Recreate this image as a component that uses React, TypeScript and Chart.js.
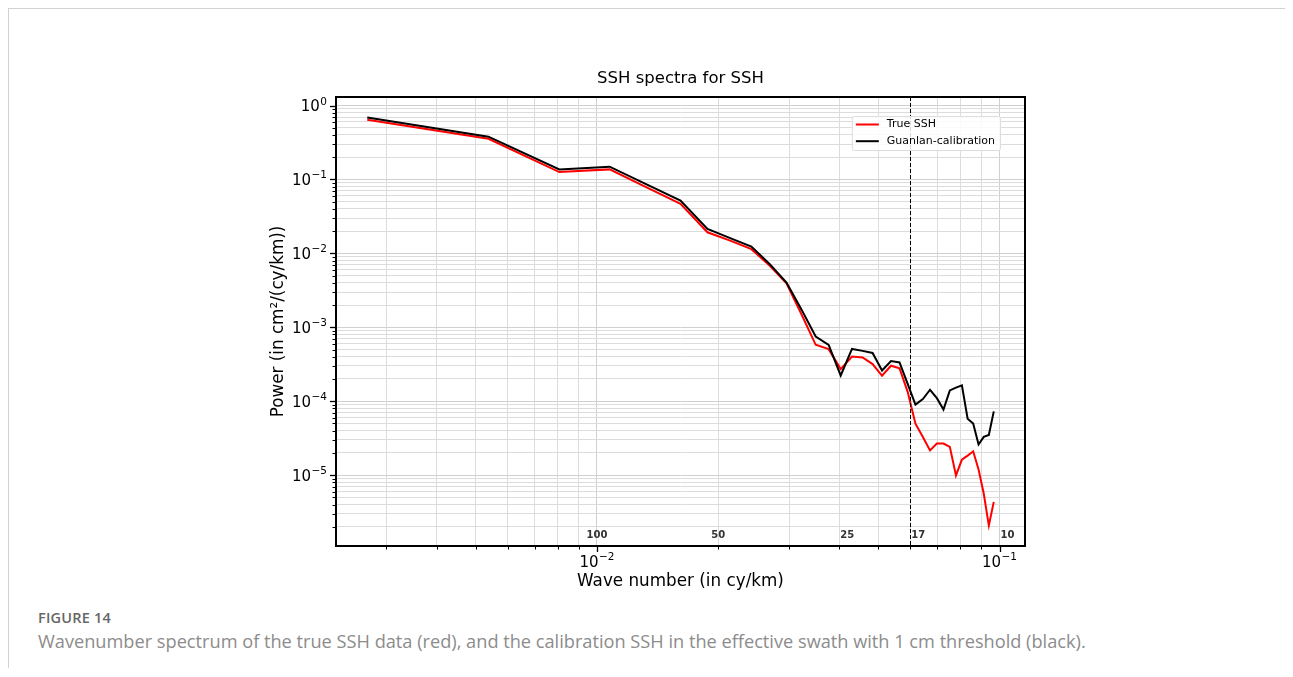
import { useEffect, useRef } from "react";
import { Chart, registerables } from "chart.js";

Chart.register(...registerables);

// Wavenumbers of the spectral estimates (cy/km)
const waveNumbers = [
  0.002688, 0.005376, 0.008065, 0.010753, 0.013441, 0.016129, 0.018817, 0.021505, 0.024194,
  0.026882, 0.02957, 0.032258, 0.034946, 0.037634, 0.040323, 0.043011, 0.045699, 0.048387,
  0.051075, 0.053763, 0.056452, 0.05914, 0.061828, 0.064516, 0.067204, 0.069892, 0.072581,
  0.075269, 0.077957, 0.080645, 0.083333, 0.086022, 0.08871, 0.091398, 0.094086, 0.096774,
];

// Power spectral density, cm²/(cy/km)
const trueSsh = [
  0.643, 0.356, 0.126, 0.137, 0.0758, 0.0467, 0.0193, 0.0148, 0.0114,
  0.00678, 0.00393, 0.00148, 5.8e-4, 5.07e-4, 2.72e-4, 4.03e-4, 3.91e-4, 3.18e-4,
  2.21e-4, 3.02e-4, 2.78e-4, 1.34e-4, 4.97e-5, 3.28e-5, 2.16e-5, 2.67e-5, 2.67e-5,
  2.41e-5, 9.9e-6, 1.62e-5, 1.84e-5, 2.1e-5, 1.19e-5, 5.6e-6, 2.08e-6, 4.35e-6,
];

const calibratedSsh = [
  0.69, 0.379, 0.137, 0.149, 0.083, 0.0517, 0.0214, 0.016, 0.0124,
  0.00715, 0.00403, 0.00172, 7.5e-4, 5.8e-4, 2.23e-4, 5.1e-4, 4.8e-4, 4.5e-4,
  2.6e-4, 3.5e-4, 3.35e-4, 1.72e-4, 9.0e-5, 1.07e-4, 1.43e-4, 1.1e-4, 7.7e-5,
  1.4e-4, 1.53e-4, 1.64e-4, 5.8e-5, 5.0e-5, 2.6e-5, 3.3e-5, 3.5e-5, 7.3e-5,
];

const seriesNames = ["True SSH", "Guanlan-calibration"];
const seriesColors = ["#ff0000", "#000000"];

// Wavelength markers (km) written along the bottom of the plot
const wavelengthText = ["100", "50", "25", "17", "10"];
const wavelengthAt = [0.01, 0.02, 0.04, 0.06, 0.1];
const cutoffWaveNumber = 0.06;

const xLimits = [0.002248, 0.1157];
const yLimits = [1.1e-6, 1.306];

const FONT = "'DejaVu Sans', sans-serif";

function decadeExponent(v: number): number | null {
  const l = Math.log10(v);
  const e = Math.round(l);
  return Math.abs(l - e) > 1e-6 ? null : e;
}

function logTicks(min: number, max: number) {
  const out: { value: number; major: boolean }[] = [];
  for (let e = Math.floor(Math.log10(min)); e <= Math.ceil(Math.log10(max)); e++) {
    for (let m = 1; m <= 9; m++) {
      const v = m * Math.pow(10, e);
      if (v >= min * 0.99999 && v <= max * 1.00001) out.push({ value: v, major: m === 1 });
    }
  }
  return out;
}

// "10" with a raised exponent, anchored at (x, baseline)
function drawPower(ctx: CanvasRenderingContext2D, e: number, x: number, baseline: number, align: "right" | "center") {
  const base = "10";
  const exp = String(e).replace("-", "\u2212");
  ctx.font = `15px ${FONT}`;
  const wb = ctx.measureText(base).width;
  ctx.font = `10.5px ${FONT}`;
  const we = ctx.measureText(exp).width;
  const total = wb + 0.5 + we;
  const start = align === "right" ? x - total : x - total / 2;
  ctx.textAlign = "left";
  ctx.textBaseline = "alphabetic";
  ctx.font = `15px ${FONT}`;
  ctx.fillText(base, start, baseline);
  ctx.font = `10.5px ${FONT}`;
  ctx.fillText(exp, start + wb + 0.5, baseline - 6.5);
}

const frameAndMarks = {
  id: "frameAndMarks",
  afterDatasetsDraw(chart: any) {
    const { ctx, chartArea: a, scales } = chart;
    const xs = scales.x;
    const ys = scales.y;
    ctx.save();

    // cutoff line
    const cx = Math.round(xs.getPixelForValue(cutoffWaveNumber)) + 0.5;
    ctx.strokeStyle = "#000";
    ctx.lineWidth = 1;
    ctx.setLineDash([4, 2]);
    ctx.beginPath();
    ctx.moveTo(cx, a.top);
    ctx.lineTo(cx, a.bottom);
    ctx.stroke();
    ctx.setLineDash([]);

    // wavelength labels
    ctx.fillStyle = "#333";
    ctx.font = `bold 10px ${FONT}`;
    ctx.textBaseline = "alphabetic";
    wavelengthText.forEach((t, i) => {
      const px = xs.getPixelForValue(wavelengthAt[i]);
      ctx.textAlign = i < 2 ? "center" : "left";
      ctx.fillText(t, i < 2 ? px : px + 1, a.bottom - 8);
    });

    // tick marks and decade labels
    ctx.strokeStyle = "#000";
    ctx.fillStyle = "#000";
    xs.ticks.forEach((t: any) => {
      const px = Math.round(xs.getPixelForValue(t.value)) + 0.5;
      ctx.lineWidth = t.major ? 1.3 : 1;
      ctx.beginPath();
      ctx.moveTo(px, a.bottom);
      ctx.lineTo(px, a.bottom + (t.major ? 6 : 3.5));
      ctx.stroke();
      const e = decadeExponent(t.value);
      if (e !== null) drawPower(ctx, e, xs.getPixelForValue(t.value), a.bottom + 20.5, "center");
    });
    ys.ticks.forEach((t: any) => {
      const py = Math.round(ys.getPixelForValue(t.value)) + 0.5;
      ctx.lineWidth = t.major ? 1.3 : 1;
      ctx.beginPath();
      ctx.moveTo(a.left, py);
      ctx.lineTo(a.left - (t.major ? 6 : 3.5), py);
      ctx.stroke();
      const e = decadeExponent(t.value);
      if (e !== null) drawPower(ctx, e, a.left - 9, ys.getPixelForValue(t.value) + 5.5, "right");
    });

    // axes frame
    ctx.lineWidth = 2;
    ctx.strokeRect(a.left, a.top, a.right - a.left, a.bottom - a.top);
    ctx.restore();
  },
  afterDraw(chart: any) {
    const { ctx, chartArea: a } = chart;
    ctx.save();
    ctx.font = `11px ${FONT}`;
    const textW = Math.max(...seriesNames.map((s) => ctx.measureText(s).width));
    const w = 35 + textW + 5;
    const h = 34;
    const right = a.right - 25;
    const left = right - w;
    const top = a.top + 19;
    ctx.fillStyle = "rgba(255,255,255,0.85)";
    ctx.strokeStyle = "#dddddd";
    ctx.lineWidth = 1;
    ctx.beginPath();
    ctx.roundRect(left + 0.5, top + 0.5, w, h, 2);
    ctx.fill();
    ctx.stroke();
    ctx.textBaseline = "middle";
    ctx.textAlign = "left";
    seriesNames.forEach((s, i) => {
      const y = top + 8.5 + i * 16.7;
      ctx.strokeStyle = seriesColors[i];
      ctx.lineWidth = 2;
      ctx.beginPath();
      ctx.moveTo(left + 4, y);
      ctx.lineTo(left + 27, y);
      ctx.stroke();
      ctx.fillStyle = "#000";
      ctx.fillText(s, left + 35, y);
    });
    ctx.restore();
  },
};

export default function App() {
  const ref = useRef<HTMLCanvasElement | null>(null);

  useEffect(() => {
    if (!ref.current) return;
    const gridColor = (c: any) => (c.tick && c.tick.major ? "#d0d0d0" : "#dcdcdc");
    const chart = new Chart(ref.current, {
      type: "line",
      data: {
        datasets: [
          {
            label: seriesNames[0],
            data: waveNumbers.map((k, i) => ({ x: k, y: trueSsh[i] })),
            borderColor: seriesColors[0],
            borderWidth: 2,
            pointRadius: 0,
            tension: 0,
            order: 1,
          },
          {
            label: seriesNames[1],
            data: waveNumbers.map((k, i) => ({ x: k, y: calibratedSsh[i] })),
            borderColor: seriesColors[1],
            borderWidth: 2,
            pointRadius: 0,
            tension: 0,
            order: 0,
          },
        ],
      },
      options: {
        animation: false,
        responsive: false,
        devicePixelRatio: 1,
        layout: { padding: { left: 250, top: 0, right: 259, bottom: 12 } },
        plugins: {
          legend: { display: false },
          tooltip: { enabled: false },
          title: {
            display: true,
            fullSize: false,
            text: "SSH spectra for SSH",
            color: "#000",
            font: { family: FONT, size: 16.5, weight: "normal", lineHeight: 1.2 },
            padding: { top: 60, bottom: 8.2 },
          },
        },
        scales: {
          x: {
            type: "logarithmic",
            min: xLimits[0],
            max: xLimits[1],
            afterBuildTicks: (s: any) => {
              s.ticks = logTicks(xLimits[0], xLimits[1]);
            },
            afterFit: (s: any) => {
              s.height = 46;
            },
            grid: { color: gridColor, lineWidth: 1, drawTicks: false },
            border: { display: false },
            ticks: { display: false, autoSkip: false },
            title: {
              display: true,
              text: "Wave number (in cy/km)",
              color: "#000",
              font: { family: FONT, size: 16.8, lineHeight: 1.2 },
              padding: { top: 0, bottom: 0 },
            },
          },
          y: {
            type: "logarithmic",
            min: yLimits[0],
            max: yLimits[1],
            afterBuildTicks: (s: any) => {
              s.ticks = logTicks(yLimits[0], yLimits[1]);
            },
            afterFit: (s: any) => {
              s.width = 77;
            },
            grid: { color: gridColor, lineWidth: 1, drawTicks: false },
            border: { display: false },
            ticks: { display: false, autoSkip: false },
            title: {
              display: true,
              text: "Power (in cm²/(cy/km))",
              color: "#000",
              font: { family: FONT, size: 16.8, lineHeight: 1.2 },
              padding: { top: 9.5, bottom: 0 },
            },
          },
        },
      } as any,
      plugins: [frameAndMarks],
    });
    return () => chart.destroy();
  }, []);

  return (
    <div style={{ height: 660, overflow: "hidden" }}>
      <div
        style={{
          position: "relative",
          width: 1278,
          height: 720,
          border: "1px solid #d2d2d2",
          boxSizing: "border-box",
          background: "#fff",
        }}
      >
        <canvas ref={ref} width={1275} height={595} style={{ position: "absolute", left: 0, top: 0, width: 1275, height: 595 }} />
        <div
          style={{
            position: "absolute",
            left: 29,
            top: 599,
            fontFamily: "'Open Sans', sans-serif",
            fontWeight: 600,
            fontSize: 14.5,
            color: "#666",
            letterSpacing: 0.2,
          }}
        >
          FIGURE 14
        </div>
        <div
          style={{
            position: "absolute",
            left: 29,
            top: 620,
            fontFamily: "'Open Sans', sans-serif",
            fontSize: 18.2,
            color: "#8c8c8c",
            whiteSpace: "nowrap",
          }}
        >
          Wavenumber spectrum of the true SSH data (red), and the calibration SSH in the effective swath with 1 cm threshold (black).
        </div>
      </div>
    </div>
  );
}
